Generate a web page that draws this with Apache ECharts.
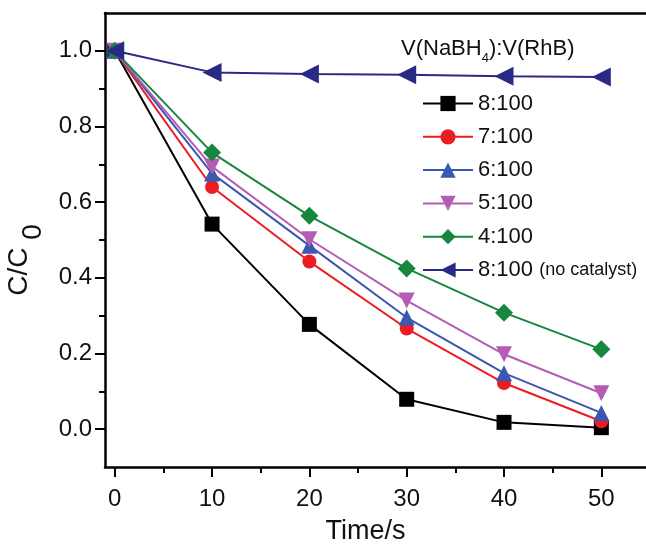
<!DOCTYPE html>
<html>
<head>
<meta charset="utf-8">
<script src="https://cdn.jsdelivr.net/npm/echarts@6/dist/echarts.min.js"></script>
<style>
  html, body { margin: 0; padding: 0; background: #fff; }
  #chart { width: 646px; height: 548px; }
</style>
</head>
<body>
<div id="chart"></div>
<script>
// Reaction time (s)
const time = [0, 10, 20, 30, 40, 50];

// Normalised RhB concentration C/C0 for each NaBH4:RhB volume ratio
const ratio8 = [1.0, 0.542, 0.277, 0.079, 0.018, 0.004];
const ratio7 = [1.0, 0.640, 0.443, 0.266, 0.122, 0.021];
const ratio6 = [1.0, 0.676, 0.485, 0.295, 0.148, 0.043];
const ratio5 = [1.0, 0.694, 0.502, 0.340, 0.198, 0.095];
const ratio4 = [1.0, 0.731, 0.564, 0.425, 0.308, 0.211];
const ratio8NoCatalyst = [1.0, 0.943, 0.939, 0.937, 0.933, 0.931];

const seriesNames = ['8:100', '7:100', '6:100', '5:100', '4:100', '8:100 (no catalyst)'];

// Axis ticks and labels
const xMajorTicks = [0, 10, 20, 30, 40, 50];
const xMinorTicks = [5, 15, 25, 35, 45];
const yMajorTicks = [0, 0.2, 0.4, 0.6, 0.8, 1.0];
const yMinorTicks = [0.1, 0.3, 0.5, 0.7, 0.9];

const FONT = '"Liberation Sans", Arial, Helvetica, sans-serif';

function pairs(ys) {
  return time.map((t, i) => [t, ys[i]]);
}

function lineSeries(name, ys, color, symbol, size, rotate) {
  return {
    name: name,
    type: 'line',
    data: pairs(ys),
    symbol: symbol,
    symbolSize: size,
    symbolRotate: rotate || 0,
    showSymbol: true,
    lineStyle: { color: color, width: 2 },
    itemStyle: { color: color, borderWidth: 0 },
    emphasis: { disabled: true },
    animation: false,
    z: 3
  };
}

const axisLineStyle = { color: '#000', width: 2.5 };

const chart = echarts.init(document.getElementById('chart'), null, { renderer: 'canvas' });

chart.setOption({
  backgroundColor: '#fff',
  animation: false,
  title: {
    text: '{a|V(NaBH}{s|4}{a|):V(RhB)}',
    left: 401,
    top: 38,
    padding: 0,
    textStyle: {
      fontWeight: 'normal',
      rich: {
        a: { fontFamily: FONT, fontSize: 22, fontWeight: 'normal', color: '#111', lineHeight: 27, verticalAlign: 'top' },
        s: { fontFamily: FONT, fontSize: 13, fontWeight: 'normal', color: '#111', lineHeight: 27, verticalAlign: 'bottom' }
      }
    }
  },
  legend: {
    orient: 'vertical',
    left: 422,
    top: 92.5,
    padding: 0,
    itemWidth: 50,
    itemHeight: 19,
    itemGap: 11.3,
    selectedMode: false,
    data: seriesNames,
    formatter: function (name) {
      const k = name.indexOf(' (');
      return k < 0 ? name : name.slice(0, k) + ' {s|' + name.slice(k + 1) + '}';
    },
    textStyle: {
      fontFamily: FONT,
      fontSize: 22,
      color: '#111',
      rich: {
        s: { fontFamily: FONT, fontSize: 18, color: '#111' }
      }
    }
  },
  grid: {
    left: 105,
    top: 13,
    width: 545,
    height: 454,
    show: false,
    containLabel: false,
    outerBoundsMode: 'none'
  },
  xAxis: [
    {
      type: 'value',
      position: 'bottom',
      min: -1,
      max: 55,
      name: 'Time/s',
      nameLocation: 'middle',
      nameGap: 51,
      nameTextStyle: { fontFamily: FONT, fontSize: 27, color: '#111', padding: [0, 24, 0, 0] },
      axisLine: { show: true, onZero: false, lineStyle: axisLineStyle },
      axisTick: { show: true, customValues: xMajorTicks, length: 10, lineStyle: { color: '#000', width: 2 } },
      axisLabel: { show: true, customValues: xMajorTicks, margin: 20, fontFamily: FONT, fontSize: 24, color: '#111' },
      splitLine: { show: false }
    },
    {
      type: 'value',
      position: 'bottom',
      min: -1,
      max: 55,
      axisLine: { show: false, onZero: false },
      axisTick: { show: true, customValues: xMinorTicks, length: 6, lineStyle: { color: '#000', width: 2 } },
      axisLabel: { show: false },
      splitLine: { show: false }
    },
    {
      // top frame line
      type: 'value',
      position: 'top',
      min: -1,
      max: 55,
      axisLine: { show: true, onZero: false, lineStyle: axisLineStyle },
      axisTick: { show: false },
      axisLabel: { show: false },
      splitLine: { show: false }
    }
  ],
  yAxis: [
    {
      type: 'value',
      position: 'left',
      min: -0.1,
      max: 1.1,
      name: '{a|C/C }{b|0}',
      nameLocation: 'middle',
      nameRotate: 90,
      nameGap: 49,
      nameTextStyle: {
        padding: [0, 40, 0, 0],
        rich: {
          a: { fontFamily: FONT, fontSize: 28, color: '#111', lineHeight: 42, verticalAlign: 'top' },
          b: { fontFamily: FONT, fontSize: 28, color: '#111', lineHeight: 42, verticalAlign: 'bottom' }
        }
      },
      axisLine: { show: true, onZero: false, lineStyle: axisLineStyle },
      axisTick: { show: true, customValues: yMajorTicks, length: 10, lineStyle: { color: '#000', width: 2 } },
      axisLabel: {
        show: true,
        customValues: yMajorTicks,
        margin: 13,
        fontFamily: FONT,
        fontSize: 24,
        color: '#111',
        formatter: function (v) { return v.toFixed(1); }
      },
      splitLine: { show: false }
    },
    {
      type: 'value',
      position: 'left',
      min: -0.1,
      max: 1.1,
      axisLine: { show: false, onZero: false },
      axisTick: { show: true, customValues: yMinorTicks, length: 6, lineStyle: { color: '#000', width: 2 } },
      axisLabel: { show: false },
      splitLine: { show: false }
    }
  ],
  series: [
    lineSeries(seriesNames[0], ratio8, '#000000', 'rect', 15),
    lineSeries(seriesNames[1], ratio7, '#ec1c24', 'circle', 14),
    lineSeries(seriesNames[2], ratio6, '#3a58b0', 'triangle', 16),
    lineSeries(seriesNames[3], ratio5, '#b55bb5', 'triangle', 16, 180),
    lineSeries(seriesNames[4], ratio4, '#17863f', 'diamond', 18),
    lineSeries(seriesNames[5], ratio8NoCatalyst, '#292a85', 'triangle', 19, 90)
  ]
});
</script>
</body>
</html>
